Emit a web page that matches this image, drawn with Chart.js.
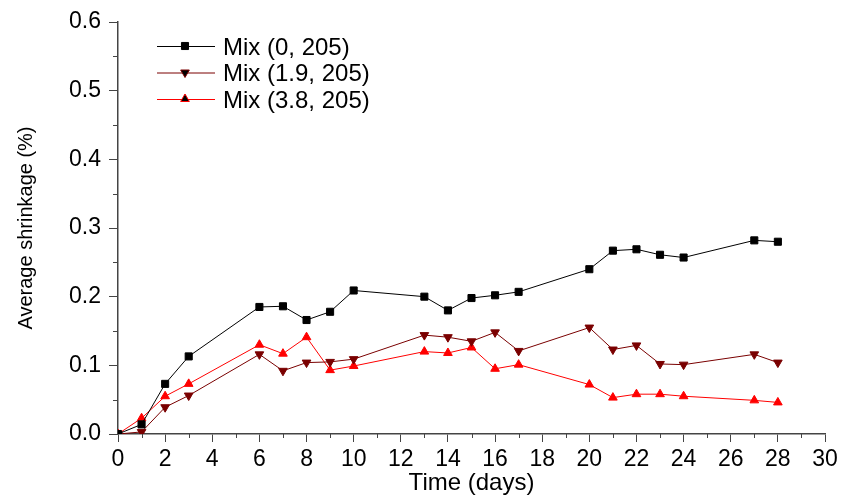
<!DOCTYPE html>
<html>
<head>
<meta charset="utf-8">
<script src="https://cdn.jsdelivr.net/npm/chart.js@4/dist/chart.umd.min.js"></script>
<style>
  body { margin: 0; background: #fff; }
  #wrap { width: 844px; height: 500px; }
</style>
</head>
<body>
<div id="wrap"><canvas id="grafica"></canvas></div>
<script>
const dias = [0, 1, 2, 3, 6, 7, 8, 9, 10, 13, 14, 15, 16, 17, 20, 21, 22, 23, 24, 27, 28];
const mix0 = [0, 0.014, 0.073, 0.113, 0.185, 0.186, 0.166, 0.178, 0.209, 0.200, 0.180, 0.198, 0.202, 0.207, 0.240, 0.267, 0.269, 0.261, 0.257, 0.282, 0.280];
const mix19 = [0, 0.003, 0.039, 0.056, 0.116, 0.092, 0.104, 0.105, 0.109, 0.144, 0.141, 0.135, 0.148, 0.121, 0.155, 0.123, 0.129, 0.102, 0.101, 0.116, 0.104];
const mix38 = [0, 0.023, 0.055, 0.073, 0.130, 0.117, 0.141, 0.093, 0.099, 0.120, 0.118, 0.126, 0.095, 0.101, 0.072, 0.053, 0.058, 0.058, 0.055, 0.049, 0.046];
const nombres = ['Mix (0, 205)', 'Mix (1.9, 205)', 'Mix (3.8, 205)'];
const xMinor = [1, 3, 5, 7, 9, 11, 13, 15, 17, 19, 21, 23, 25, 27, 29];
const yMinor = [0.05, 0.15, 0.25, 0.35, 0.45, 0.55];

const ejeColor = '#444444';
const fuente = 'Liberation Sans, Arial, sans-serif';

function puntos(valores) {
    return dias.map((d, i) => ({ x: d, y: valores[i] }));
}

// short minor ticks, the library only draws one length
const minorTicks = {
    id: 'minorTicks',
    afterDraw(chart) {
        const ctx = chart.ctx;
        const xs = chart.scales.x, ys = chart.scales.y;
        const a = chart.chartArea;
        ctx.save();
        ctx.strokeStyle = ejeColor;
        ctx.lineWidth = 1;
        ctx.beginPath();
        xMinor.forEach(v => {
            const px = Math.round(xs.getPixelForValue(v)) + 0.5;
            ctx.moveTo(px, a.bottom);
            ctx.lineTo(px, a.bottom + 4);
        });
        yMinor.forEach(v => {
            const py = Math.round(ys.getPixelForValue(v)) + 0.5;
            ctx.moveTo(a.left, py);
            ctx.lineTo(a.left - 5, py);
        });
        ctx.stroke();
        ctx.restore();
    }
};

// legend with line + marker, like the original
const leyenda = {
    id: 'leyenda',
    afterDraw(chart) {
        const ctx = chart.ctx;
        const a = chart.chartArea;
        ctx.save();
        ctx.font = '24px ' + fuente;
        ctx.textBaseline = 'middle';
        chart.data.datasets.forEach((ds, i) => {
            const y = a.top + 24 + i * 26.5;
            const x0 = a.left + 39;
            ctx.strokeStyle = ds.borderColor;
            ctx.lineWidth = 1;
            ctx.beginPath();
            ctx.moveTo(x0, y + 0.5);
            ctx.lineTo(x0 + 58, y + 0.5);
            ctx.stroke();
            Chart.helpers.drawPoint(ctx, {
                pointStyle: ds.pointStyle,
                radius: ds.pointRadius,
                rotation: ds.pointRotation || 0,
                borderWidth: 1
            }, x0 + 28, y);
            ctx.fillStyle = '#000';
            ctx.fillText(ds.label, x0 + 66, y + 2);
        });
        ctx.restore();
    }
};

const data = {
    datasets: [{
        label: nombres[0],
        data: puntos(mix0),
        borderColor: '#000000',
        backgroundColor: '#000000',
        pointBorderColor: '#000000',
        borderWidth: 1,
        pointStyle: 'rect',
        pointRadius: 5,
        pointHoverRadius: 5
    }, {
        label: nombres[1],
        data: puntos(mix19),
        borderColor: '#7a0000',
        backgroundColor: '#7a0000',
        pointBorderColor: '#7a0000',
        borderWidth: 1,
        pointStyle: 'triangle',
        pointRotation: 180,
        pointRadius: 5,
        pointHoverRadius: 5
    }, {
        label: nombres[2],
        data: puntos(mix38),
        borderColor: '#ff0000',
        backgroundColor: '#ff0000',
        pointBorderColor: '#ff0000',
        borderWidth: 1,
        pointStyle: 'triangle',
        pointRadius: 5,
        pointHoverRadius: 5
    }]
};

const config = {
    type: 'line',
    data: data,
    plugins: [minorTicks, leyenda],
    options: {
        responsive: true,
        maintainAspectRatio: false,
        animation: false,
        layout: {
            padding: { top: 22, right: 19, left: 0, bottom: 0 }
        },
        plugins: {
            legend: { display: false },
            tooltip: { enabled: false }
        },
        scales: {
            x: {
                type: 'linear',
                min: 0,
                max: 30,
                ticks: {
                    stepSize: 2,
                    color: '#000',
                    padding: 4,
                    maxRotation: 0,
                    font: { family: fuente, size: 23 }
                },
                grid: {
                    drawOnChartArea: false,
                    drawTicks: true,
                    tickLength: 8,
                    tickColor: ejeColor
                },
                border: { display: true, color: ejeColor, width: 1.5 },
                title: {
                    display: true,
                    text: 'Time (days)',
                    color: '#000',
                    padding: { top: 0, bottom: 2 },
                    font: { family: fuente, size: 24 }
                },
                afterFit(scale) { scale.height = 66; }
            },
            y: {
                min: 0,
                max: 0.6,
                ticks: {
                    stepSize: 0.1,
                    color: '#000',
                    padding: 8,
                    font: { family: fuente, size: 23 },
                    callback: v => v.toFixed(1)
                },
                grid: {
                    drawOnChartArea: false,
                    drawTicks: true,
                    tickLength: 9,
                    tickColor: ejeColor
                },
                border: { display: true, color: ejeColor, width: 1.5 },
                title: {
                    display: true,
                    text: 'Average shrinkage (%)',
                    color: '#000',
                    padding: { top: 14, bottom: 0 },
                    font: { family: fuente, size: 20 }
                },
                afterFit(scale) { scale.width = 118; }
            }
        }
    }
};

const ctx = document.getElementById('grafica');
const grafica = new Chart(ctx, config);
</script>
</body>
</html>
